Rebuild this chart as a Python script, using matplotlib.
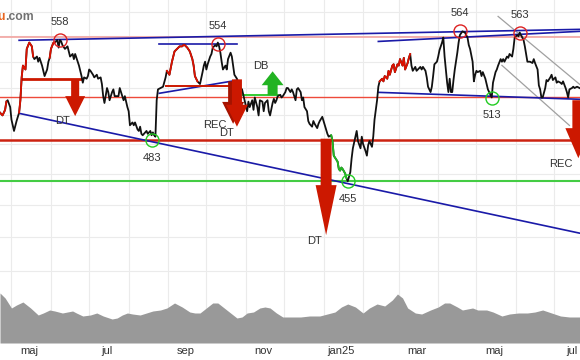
import numpy as np
import matplotlib.pyplot as plt
from matplotlib.ticker import NullLocator

plt.rcParams['font.family'] = ['Liberation Sans', 'DejaVu Sans']

start = np.datetime64('2024-04-22')

# closing price, days since start
day = [0, 2, 4, 5, 6, 8, 9, 11, 13, 15, 16, 17, 18, 20, 21, 23, 25, 26, 27, 29,
       30, 31, 33, 34, 35, 37, 38, 39, 40, 42, 43, 45, 46, 47, 48, 49, 51, 53, 54, 55,
       57, 58, 59, 60, 62, 64, 65, 66, 68, 69, 70, 71, 73, 74, 76, 77, 79, 80, 81, 82,
       84, 85, 86, 88, 89, 90, 93, 94, 97, 98, 100, 101, 102, 104, 105, 106, 108, 109, 110, 111,
       112, 114, 115, 116, 118, 119, 120, 121, 122, 123, 124, 126, 128, 130, 131, 133, 135, 137, 140, 141,
       143, 144, 145, 147, 149, 151, 152, 153, 155, 157, 159, 160, 161, 162, 163, 165, 166, 167, 169, 170,
       171, 172, 173, 174, 175, 177, 178, 179, 181, 182, 183, 184, 186, 187, 188, 190, 191, 192, 194, 195,
       196, 198, 199, 200, 202, 203, 204, 206, 207, 208, 210, 211, 212, 214, 215, 216, 217, 218, 220, 221,
       222, 224, 225, 226, 228, 229, 230, 232, 233, 234, 236, 237, 238, 239, 241, 242, 243, 245, 246, 247,
       249, 250, 251, 253, 254, 255, 257, 258, 260, 261, 262, 265, 266, 267, 268, 269, 271, 272, 273, 275,
       276, 277, 279, 280, 281, 283, 284, 285, 287, 288, 289, 290, 292, 293, 294, 296, 297, 298, 300, 301,
       302, 304, 305, 306, 308, 309, 310, 312, 313, 314, 316, 317, 318, 320, 321, 322, 323, 324, 326, 327,
       328, 330, 331, 332, 334, 335, 336, 338, 339, 340, 341, 343, 344, 345, 347, 348, 349, 351, 352, 353,
       354, 355, 356, 357, 359, 360, 361, 363, 365, 367, 368, 369, 371, 372, 373, 374, 375, 377, 378, 379,
       381, 382, 383, 385, 386, 387, 389, 390, 391, 393, 394, 395, 396, 398, 399, 400, 402, 403, 404, 406,
       407, 408, 410, 411, 412, 414, 415, 416, 418, 419, 420, 422, 423, 424, 425, 426, 428, 429, 430, 432,
       433, 434, 436, 437, 438, 440, 441, 442, 444, 445, 446, 447, 449, 450, 451, 453, 455]
close = [502, 500, 504, 510, 511, 506, 497, 489, 496, 502, 511, 528, 537, 534, 550, 555, 552, 544, 542, 544,
         540, 543, 537, 533, 529, 534, 540, 543, 550, 555, 555, 557, 551, 557, 556, 553, 550, 552, 548, 544,
         546, 542, 546, 543, 537, 529, 524, 528, 527, 529, 534, 533, 530, 528, 530, 527, 528, 523, 514, 509,
         520, 517, 511, 517, 519, 514, 514, 520, 511, 514, 506, 503, 493, 495, 493, 495, 490, 489, 492, 487,
         486, 488, 489, 487, 489, 486, 488, 486, 485, 511, 519, 520, 521, 528, 533, 530, 540, 548, 551, 552,
         552, 553, 553, 551, 548, 542, 537, 529, 525, 523, 532, 537, 540, 534, 538, 544, 546, 551, 553, 552,
         555, 552, 547, 540, 534, 537, 534, 542, 547, 544, 537, 530, 527, 524, 521, 519, 515, 511, 503, 510,
         506, 511, 504, 513, 506, 500, 511, 510, 503, 509, 511, 503, 500, 509, 512, 509, 511, 514, 515, 513,
         514, 517, 520, 520, 517, 519, 517, 511, 519, 520, 517, 511, 513, 506, 503, 496, 494, 492, 496, 494,
         491, 494, 496, 499, 496, 493, 487, 485, 486, 482, 472, 468, 463, 462, 464, 463, 460, 457, 455, 461,
         470, 477, 485, 489, 482, 477, 485, 480, 475, 472, 479, 482, 478, 485, 497, 511, 521, 525, 527, 525,
         529, 527, 533, 530, 537, 538, 532, 538, 537, 542, 537, 543, 534, 539, 543, 546, 537, 533, 536, 533,
         534, 536, 534, 536, 533, 528, 521, 517, 521, 529, 538, 540, 544, 549, 555, 559, 544, 524, 517, 527,
         517, 517, 526, 534, 547, 555, 561, 564, 563, 559, 553, 550, 540, 525, 530, 533, 532, 533, 529, 532,
         527, 523, 519, 515, 513, 524, 532, 534, 537, 542, 540, 542, 540, 544, 543, 546, 544, 550, 559, 561,
         560, 563, 559, 557, 552, 540, 540, 540, 539, 542, 539, 534, 522, 519, 513, 513, 520, 526, 525, 528,
         530, 526, 528, 524, 525, 524, 523, 525, 520, 517, 513, 519, 520, 521, 520, 521, 520]
red_spans = [(0, 5), (15, 26), (39, 43), (131, 155), (298, 322)]
green_spans = [(260, 272)]

vol_day = [0, 4, 9, 13, 18, 24, 30, 34, 39, 43, 49, 53, 57, 60, 65, 71, 76, 81, 88, 92,
           96, 100, 104, 110, 115, 120, 126, 131, 137, 143, 149, 153, 157, 162, 167, 171, 175, 181, 186, 190,
           194, 199, 204, 208, 212, 217, 222, 228, 236, 243, 251, 257, 263, 268, 273, 279, 285, 290, 296, 302,
           308, 312, 316, 320, 326, 331, 338, 344, 349, 353, 359, 363, 371, 375, 382, 387, 394, 400, 407, 414,
           420, 426, 433, 440, 447, 455]
volume = [50, 45, 35, 38, 41, 35, 28, 30, 33, 32, 30, 31, 32, 30, 27, 28, 30, 27, 24, 25,
          28, 30, 29, 28, 30, 32, 33, 35, 40, 36, 31, 30, 30, 35, 40, 40, 36, 30, 25, 26,
          30, 31, 35, 36, 35, 30, 26, 26, 26, 27, 27, 29, 31, 36, 39, 36, 30, 35, 39, 37,
          43, 49, 45, 35, 30, 29, 33, 36, 40, 40, 36, 33, 35, 33, 33, 31, 27, 29, 30, 30,
          31, 33, 30, 27, 26, 26]

# horizontal support / resistance levels
levels = [559.2, 513.2, 482.5, 455.0]
level_colors = ['#f3a3a0', '#ee4a3a', '#cc2211', '#44cc44']
level_widths = [1.2, 1.0, 1.8, 1.5]

# trend lines: (day0, price0, day1, price1)
blue_lines = [(15, 501.5, 455, 422.4), (15, 556.8, 455, 565.6), (297, 555.9, 455, 564.0),
              (125, 553.6, 186, 553.6), (125, 516.1, 186, 525.8), (297, 516.8, 455, 511.7)]
gray_lines = [(391, 576.2, 455, 522.8), (394, 537.2, 447, 492.9)]
red_bars = [(17, 64, 526.5, 2.0), (130, 181, 521.3, 1.4)]
green_bars = [(191, 218, 514.6)]

# pivots
pivot_day = [47, 171, 361, 408, 119, 273, 386]
pivot_price = [556.8, 553.6, 564.0, 562.4, 482.5, 455.0, 512.6]
pivot_label = ['558', '554', '564', '563', '483', '455', '513']
pivot_top = [True, True, True, True, False, False, False]

# signal arrows
arrow_day = [59, 183, 186, 214, 256, 454]
arrow_from = [526.5, 525.0, 526.5, 514.6, 483.6, 511.0]
arrow_to = [499.5, 494.0, 492.0, 532.6, 421.2, 470.3]
arrow_text = ['DT', 'REC', 'DT', 'DB', 'DT', 'REC']
text_day = [49, 169, 178, 205, 247, 440]
text_price = [495.8, 492.9, 487.4, 536.4, 417.6, 466.3]
arrow_colors = ['#cc1800', '#a51300', '#cc1800', '#22b322', '#cc1800', '#cc1800']
arrow_sizes = [(5.8, 14.4, 14.4), (7.2, 15.8, 15.8), (7.2, 15.8, 15.8),
               (7.2, 15.8, 10.0), (7.9, 15.1, 36.0), (8.6, 18.7, 21.6)]

tick_dates = ['2024-05-15', '2024-07-15', '2024-09-15', '2024-11-15',
              '2025-01-15', '2025-03-15', '2025-05-15', '2025-07-15']
tick_labels = ['maj', 'jul', 'sep', 'nov', 'jan25', 'mar', 'maj', 'jul']

day = np.array(day)
close = np.array(close)

fig = plt.figure(figsize=(5.8, 3.6), dpi=100)
rect = [0, 17 / 360, 1, 343 / 360]
ax = fig.add_axes(rect)
ax.set_yscale('log')
ax.set_xlim(0, 455.3)
ax.set_ylim(360.9, 589.9)

months = np.arange('2024-05', '2025-08', dtype='datetime64[M]')
month_days = (months.astype('datetime64[D]') - start).astype(int)
ax.set_xticks(month_days, minor=True)
ax.set_xticks((np.array(tick_dates, dtype='datetime64[D]') - start).astype(int))
ax.set_xticklabels(tick_labels)
ax.set_yticks(np.arange(400, 590, 20))
ax.yaxis.set_minor_locator(NullLocator())
ax.set_yticklabels([])
ax.tick_params(axis='both', which='both', length=0)
ax.tick_params(axis='x', labelsize=8, labelcolor='#333333', pad=2)
ax.grid(True, which='minor', axis='x', color='#ebebeb', lw=0.8)
ax.grid(True, which='major', axis='y', color='#ebebeb', lw=0.8)
for s in ax.spines.values():
    s.set_visible(False)

for lvl, c, w in zip(levels, level_colors, level_widths):
    ax.axhline(lvl, color=c, lw=w, zorder=2)
for d0, p0, d1, p1 in gray_lines:
    ax.plot([d0, d1], [p0, p1], color='#a0a0a0', lw=0.9, zorder=2)
for d0, p0, d1, p1 in blue_lines:
    ax.plot([d0, d1], [p0, p1], color='#1a1aa8', lw=1.2, zorder=3)
for d0, d1, p, w in red_bars:
    ax.plot([d0, d1], [p, p], color='#cc1800', lw=w, zorder=3)
for d0, d1, p in green_bars:
    ax.plot([d0, d1], [p, p], color='#33cc33', lw=1.4, zorder=3)

ax.plot(day, close, color='#111111', lw=1.3, zorder=4)
for spans, c in [(red_spans, '#dd1100'), (green_spans, '#22bb22')]:
    for a, b in spans:
        m = (day >= a) & (day <= b)
        ax.plot(day[m], close[m], color=c, lw=1.3, zorder=5)

for i in range(len(arrow_day)):
    tw, hw, hl = arrow_sizes[i]
    ax.annotate('', xy=(arrow_day[i], arrow_to[i]), xytext=(arrow_day[i], arrow_from[i]),
                arrowprops=dict(arrowstyle=f'simple,head_length={hl},head_width={hw},tail_width={tw}',
                                mutation_scale=1, fc=arrow_colors[i], ec='none',
                                shrinkA=0, shrinkB=0), zorder=6)
    ax.text(text_day[i], text_price[i], arrow_text[i], ha='center', va='center',
            fontsize=8, color='#333333', zorder=7)

for d, p, lab, top in zip(pivot_day, pivot_price, pivot_label, pivot_top):
    c = '#dd2222' if top else '#22cc22'
    ax.plot(d, p, 'o', ms=9.4, mfc='none', mec=c, mew=1.0, zorder=7)
    ax.annotate(lab, (d, p), xytext=(0, 13 if top else -12.5), textcoords='offset points',
                ha='center', va='center', fontsize=8, color='#333333', zorder=7)

# volume on top axes (hides grid underneath)
axv = fig.add_axes(rect, zorder=2)
axv.patch.set_visible(False)
axv.fill_between(vol_day, volume, color='#999999', lw=0)
axv.set_xlim(0, 455.3)
axv.set_ylim(0, 343)
axv.axis('off')

fig.text(4.5 / 580, 1 - 17 / 360, 'u', ha='right', va='center', fontsize=8.7,
         weight='bold', color='#e8641e')
fig.text(5 / 580, 1 - 17 / 360, '.com', ha='left', va='center', fontsize=8.7,
         weight='bold', color='#707070')

fig.savefig('out.png', dpi=100)
